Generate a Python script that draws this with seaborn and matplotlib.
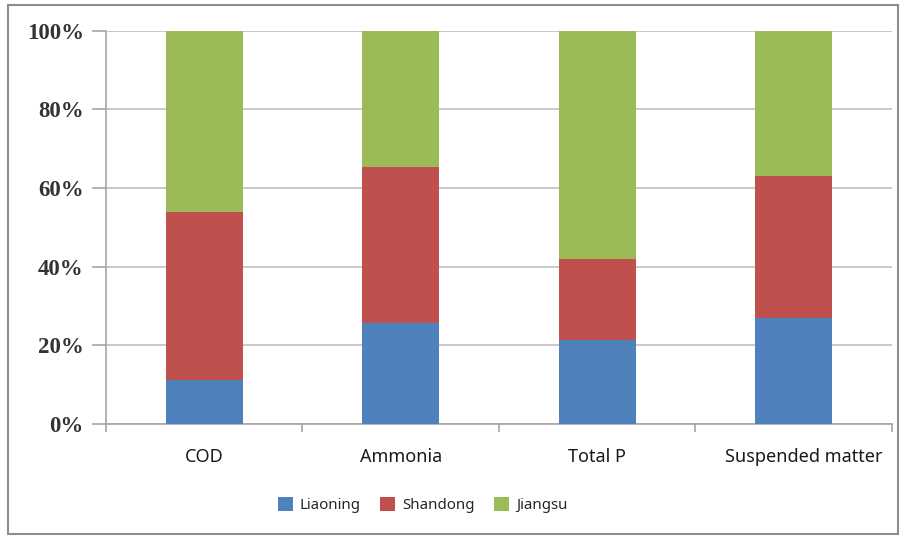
import matplotlib
matplotlib.use("Agg")
import matplotlib.pyplot as plt
from matplotlib.patches import Rectangle, Patch
from matplotlib.ticker import FixedLocator, PercentFormatter
from matplotlib.transforms import ScaledTranslation
import numpy as np
import pandas as pd
import seaborn as sns

# Share of each pollutant load by province (percent)
categories = ["COD", "Ammonia", "Total P", "Suspended matter"]
provinces = ["Liaoning", "Shandong", "Jiangsu"]
liaoning = [11.2, 25.7, 21.3, 27.0]
shandong = [42.6, 39.5, 20.7, 36.0]
jiangsu = [46.2, 34.8, 58.0, 37.0]
colors = ["#4F81BD", "#C0504D", "#9BBB59"]
y_ticks = [0, 20, 40, 60, 80, 100]

sns.set_theme(style="white")
plt.rcParams["font.family"] = ["DejaVu Sans"]

df = pd.DataFrame({"category": categories,
                   "Liaoning": liaoning,
                   "Shandong": shandong,
                   "Jiangsu": jiangsu})
cum = df[provinces].cumsum(axis=1)

fig = plt.figure(figsize=(9.05, 5.39), dpi=100)
ax = fig.add_axes([0.1171, 0.2134, 0.8685, 0.7300])

# stacked bars: draw cumulative totals from the top layer down
for prov, col in reversed(list(zip(provinces, colors))):
    sns.barplot(x=df["category"], y=cum[prov], color=col, width=0.39,
                saturation=1, ax=ax, zorder=3, linewidth=0)

ax.set_ylim(0, 100)
ax.set_xlim(-0.5, len(categories) - 0.5)
ax.yaxis.set_major_locator(FixedLocator(y_ticks))
ax.yaxis.set_major_formatter(PercentFormatter(decimals=0))
ax.set_xlabel("")
ax.set_ylabel("")
ax.grid(axis="y", color="#BFBFBF", linewidth=1.2, zorder=0)
ax.grid(axis="x", visible=False)

for s in ["top", "right"]:
    ax.spines[s].set_visible(False)
for s in ["left", "bottom"]:
    ax.spines[s].set_color("#A6A6A6")
    ax.spines[s].set_linewidth(1.2)

ax.tick_params(axis="y", left=True, length=10, width=1.2, color="#A6A6A6",
               pad=6, labelsize=16.5, labelcolor="#333333")
for t in ax.get_yticklabels():
    t.set_family("Liberation Serif")
    t.set_fontweight("bold")

# category labels centered; tick marks at category boundaries
ax.tick_params(axis="x", bottom=False, pad=11, labelsize=13, labelcolor="#1a1a1a")
xlabels = ax.get_xticklabels()
for t in xlabels:
    t.set_family("Noto Sans")
xlabels[-1].set_transform(xlabels[-1].get_transform()
                          + ScaledTranslation(0.1, 0, fig.dpi_scale_trans))
ax.set_xticks(np.arange(-0.5, len(categories)), minor=True)
ax.tick_params(axis="x", which="minor", bottom=True, length=6, width=1.2,
               color="#A6A6A6")

handles = [Patch(facecolor=c, edgecolor="none") for c in colors]
fig.legend(handles, provinces, loc="center", bbox_to_anchor=(0.467, 0.063),
           ncol=3, frameon=False, handlelength=1.0, handleheight=1.0,
           handletextpad=0.45, columnspacing=1.3,
           prop={"family": "Noto Sans", "size": 10.8})

fig.patches.append(Rectangle((8 / 905, 5 / 539), 890 / 905, 529 / 539,
                             transform=fig.transFigure, fill=False,
                             edgecolor="#8C8C8C", linewidth=1.5))

fig.savefig("out.png", dpi=100)
